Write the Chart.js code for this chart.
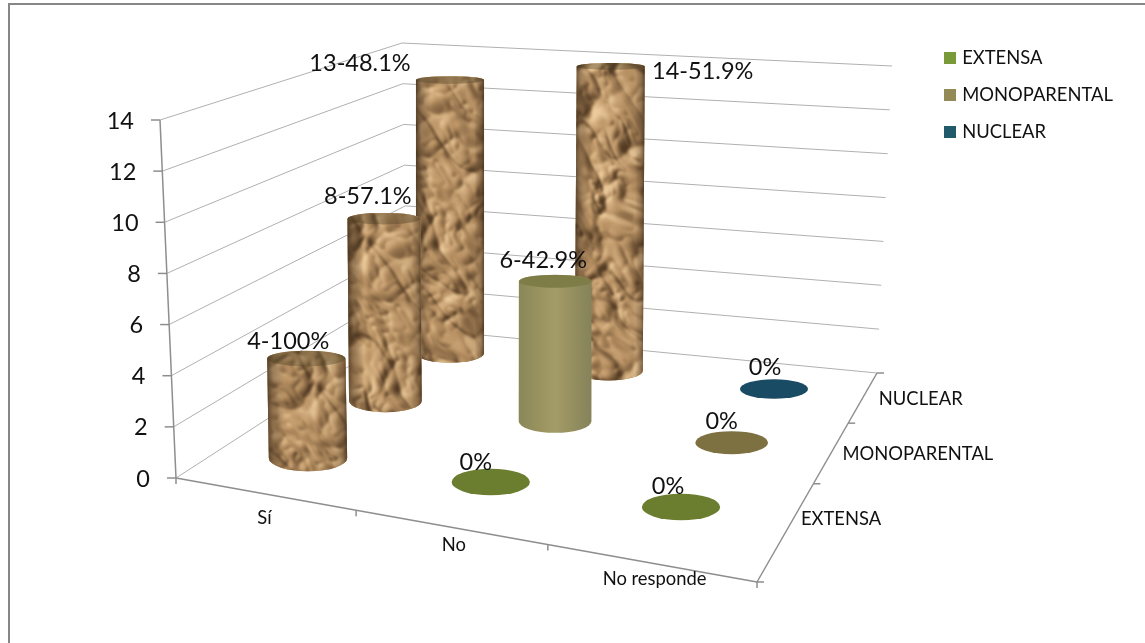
<!DOCTYPE html>
<html>
<head>
<meta charset="utf-8">
<title>Familia</title>
<script src="https://cdn.jsdelivr.net/npm/chart.js@4/dist/chart.umd.min.js"></script>
<style>
  html, body { margin: 0; padding: 0; background: #fff; overflow: hidden; }
  canvas { display: block; filter: blur(0.4px); }
</style>
</head>
<body>
<canvas id="chart" width="1145" height="643"></canvas>
<script>
// chart values
const categories = ['Sí', 'No', 'No responde'];
const seriesNames = ['EXTENSA', 'MONOPARENTAL', 'NUCLEAR'];
const extensa = [4, 0, 0];
const monoparental = [8, 6, 0];
const nuclear = [13, 14, 0];
const extensaLabels = ['4-100%', '0%', '0%'];
const monoparentalLabels = ['8-57.1%', '6-42.9%', '0%'];
const nuclearLabels = ['13-48.1%', '14-51.9%', '0%'];
const yTicks = [0, 2, 4, 6, 8, 10, 12, 14];

// the 3D box as it sits on the page: floor corners and the same corners at y max
const FLOOR = [[176, 478], [757, 582], [877, 373], [408, 328]];
const CEILING = [[160, 120], [782, 200], [892, 66], [402, 43]];
// same idea for the grid of slots the cylinders stand in (first to last slot)
const SLOT_FLOOR = [[308, 458], [681, 507], [774, 389], [450, 353]];
const SLOT_CEILING = [[302, 110], [684, 147], [778, 74], [450, 59]];
const SLOT_COLS = [0, 0.49, 1];
const SLOT_ROWS = [0, 0.545, 1];
// tick marks along the two floor edges
const FRONT_TICKS = [0, 0.31, 0.64, 1];
const SIDE_TICKS = [0, 0.47, 0.76, 1];

const FONT = 'Lato, Carlito, sans-serif';
const GRID = '#b0b0b0';
const AXIS = '#8e8e8e';
const TEXT = '#111';

// unit square -> quad
function homography(q) {
  const [[x0, y0], [x1, y1], [x2, y2], [x3, y3]] = q;
  const dx1 = x1 - x2, dx2 = x3 - x2, sx = x0 - x1 + x2 - x3;
  const dy1 = y1 - y2, dy2 = y3 - y2, sy = y0 - y1 + y2 - y3;
  const den = dx1 * dy2 - dx2 * dy1;
  const g = (sx * dy2 - dx2 * sy) / den;
  const h = (dx1 * sy - sx * dy1) / den;
  const a = x1 - x0 + g * x1, b = x3 - x0 + h * x3;
  const d = y1 - y0 + g * y1, e = y3 - y0 + h * y3;
  return (u, v) => {
    const w = g * u + h * v + 1;
    return { x: (a * u + b * v + x0) / w, y: (d * u + e * v + y0) / w };
  };
}
function bilinear(q) {
  return (u, v) => {
    const w = [(1 - u) * (1 - v), u * (1 - v), u * v, (1 - u) * v];
    return {
      x: w[0] * q[0][0] + w[1] * q[1][0] + w[2] * q[2][0] + w[3] * q[3][0],
      y: w[0] * q[0][1] + w[1] * q[1][1] + w[2] * q[2][1] + w[3] * q[3][1]
    };
  };
}
// u, v across the plane (0..1), t up the value axis (0..1)
function projector(floorAt, ceilingAt) {
  return (u, v, t) => {
    const f = floorAt(u, v), c = ceilingAt(u, v);
    return { x: f.x + (c.x - f.x) * t, y: f.y + (c.y - f.y) * t };
  };
}
const project = projector(homography(FLOOR), homography(CEILING));
const projectSlot = projector(bilinear(SLOT_FLOOR), bilinear(SLOT_CEILING));

function line(ctx, a, b, color, width) {
  ctx.strokeStyle = color;
  ctx.lineWidth = width;
  ctx.beginPath();
  ctx.moveTo(a.x, a.y);
  ctx.lineTo(b.x, b.y);
  ctx.stroke();
}
function along(a, b, f) {
  return { x: a.x + (b.x - a.x) * f, y: a.y + (b.y - a.y) * f };
}

// crumpled paper surface, a fixed hash noise lit from the top left
function hash(x, y) {
  const s = Math.sin(x * 127.1 + y * 311.7) * 43758.5453;
  return s - Math.floor(s);
}
function noise(x, y) {
  const ix = Math.floor(x), iy = Math.floor(y);
  const fx = x - ix, fy = y - iy;
  const ux = fx * fx * (3 - 2 * fx), uy = fy * fy * (3 - 2 * fy);
  const top = hash(ix, iy) * (1 - ux) + hash(ix + 1, iy) * ux;
  const bot = hash(ix, iy + 1) * (1 - ux) + hash(ix + 1, iy + 1) * ux;
  return top * (1 - uy) + bot * uy;
}
function crease(x, y) {
  // creases mostly run from top left to bottom right
  const a = x * 0.6 + y * 0.8, b = -x * 0.8 + y * 0.6;
  const wa = a + 16 * noise(a / 34 + 5, b / 34);
  const wb = b + 16 * noise(a / 34, b / 34 + 9);
  const c1 = Math.abs(2 * noise(wa / 46, wb / 20) - 1);
  const c2 = Math.abs(2 * noise(wa / 22 + 3, wb / 11 + 7) - 1);
  const c3 = Math.abs(2 * noise(wa / 10 + 11, wb / 6 + 2) - 1);
  return { c1, c2, h: c1 + 0.5 * c2 + 0.22 * c3 };
}
function buildPaper(w, h) {
  const tile = document.createElement('canvas');
  tile.width = w;
  tile.height = h;
  const tc = tile.getContext('2d');
  const img = tc.createImageData(w, h);
  const dark = [84, 60, 36], mid = [190, 150, 103], high = [238, 204, 156];
  for (let y = 0; y < h; y++) {
    for (let x = 0; x < w; x++) {
      const p = crease(x, y);
      const next = crease(x + 1.5, y + 1.5);
      let s = 0.54 + 3 * (next.h - p.h);
      if (p.c1 < 0.1) s -= 0.42 * (1 - p.c1 / 0.1);
      if (p.c2 < 0.08) s -= 0.22 * (1 - p.c2 / 0.08);
      s = Math.max(0, Math.min(1, s));
      const from = s < 0.54 ? dark : mid;
      const to = s < 0.54 ? mid : high;
      const f = s < 0.54 ? s / 0.54 : (s - 0.54) / 0.46;
      const k = (y * w + x) * 4;
      for (let n = 0; n < 3; n++) img.data[k + n] = from[n] + (to[n] - from[n]) * f;
      img.data[k + 3] = 255;
    }
  }
  tc.putImageData(img, 0, 0);
  const out = document.createElement('canvas');
  out.width = w;
  out.height = h;
  const oc = out.getContext('2d');
  oc.filter = 'blur(0.9px)';
  oc.drawImage(tile, 0, 0);
  return out;
}
const paper = buildPaper(300, 360);

function cylinderPath(ctx, b, r, ryb, c, ryc) {
  ctx.beginPath();
  ctx.ellipse(b.x, b.y, r, ryb, 0, 0, Math.PI);
  ctx.lineTo(c.x - r, c.y);
  ctx.ellipse(c.x, c.y, r, ryc, 0, Math.PI, Math.PI * 2);
  ctx.closePath();
}

function drawCylinder(ctx, surface, i, d, b, r, ryb, c, ryc) {
  const left = Math.min(b.x, c.x) - r;
  const right = Math.max(b.x, c.x) + r;
  ctx.save();
  cylinderPath(ctx, b, r, ryb, c, ryc);
  if (surface === 'paper') {
    ctx.fillStyle = '#a98455';
    ctx.fill();
    ctx.clip();
    ctx.drawImage(paper, left - i * 90 - d * 30, c.y - ryc - d * 8);
    const shade = ctx.createLinearGradient(left, 0, right, 0);
    shade.addColorStop(0, 'rgba(62,44,26,0.8)');
    shade.addColorStop(0.08, 'rgba(62,44,26,0.4)');
    shade.addColorStop(0.22, 'rgba(62,44,26,0)');
    shade.addColorStop(0.86, 'rgba(62,44,26,0.08)');
    shade.addColorStop(0.95, 'rgba(62,44,26,0.4)');
    shade.addColorStop(1, 'rgba(62,44,26,0.78)');
    ctx.fillStyle = shade;
    ctx.fillRect(left - 2, c.y - ryc - 2, right - left + 4, b.y + ryb - c.y + ryc + 4);
    ctx.beginPath();
    ctx.ellipse(c.x, c.y, r, ryc, 0, 0, Math.PI * 2);
    ctx.fillStyle = 'rgba(74,62,34,0.4)';
    ctx.fill();
  } else {
    const shade = ctx.createLinearGradient(left, 0, right, 0);
    shade.addColorStop(0, '#8a8758');
    shade.addColorStop(0.5, '#a49c66');
    shade.addColorStop(1, '#85825a');
    ctx.fillStyle = shade;
    ctx.fill();
    ctx.clip();
    ctx.beginPath();
    ctx.ellipse(c.x, c.y, r, ryc, 0, 0, Math.PI * 2);
    ctx.fillStyle = '#7f7d47';
    ctx.fill();
  }
  ctx.restore();
}

const box3dPlugin = {
  id: 'box3d',
  afterLayout(chart) {
    // legend keeps its own drawing, it only sits higher than the plot area
    chart.legend.left = 928.4;
    chart.legend.top = 30.2;
  },
  beforeDraw(chart) {
    const ctx = chart.ctx;
    ctx.save();
    ctx.fillStyle = '#878787';
    ctx.fillRect(8, 3, 1137, 2);
    ctx.fillRect(8, 3, 2, 640);
    ctx.restore();
  },
  // draws the whole box; returning false stops the flat bars being painted
  beforeDatasetsDraw(chart, args, opts) {
    const ctx = chart.ctx;
    const yScale = chart.scales.y;
    const xScale = chart.scales.x;
    const area = chart.chartArea;
    const rows = seriesNames.length;
    const tOf = v => (area.bottom - yScale.getPixelForValue(v)) / (area.bottom - area.top);
    const uOf = i => (xScale.getPixelForValue(i) - area.left) / (area.right - area.left);
    const vOf = d => (d + 0.5) / rows;

    ctx.save();
    // walls
    yTicks.forEach(tick => {
      const t = tOf(tick);
      line(ctx, project(0, 0, t), project(0, 1, t), GRID, 1);
      line(ctx, project(0, 1, t), project(1, 1, t), GRID, 1);
    });

    // value axis, slightly leaning
    line(ctx, project(0, 0, 0), project(0, 0, 1), AXIS, 1.5);
    ctx.font = opts.bigFont + 'px ' + FONT;
    ctx.fillStyle = TEXT;
    ctx.textAlign = 'right';
    ctx.textBaseline = 'middle';
    yTicks.forEach(tick => {
      const p = project(0, 0, tOf(tick));
      line(ctx, { x: p.x - 9, y: p.y }, p, AXIS, 1.5);
      ctx.fillText(String(tick), p.x - 26, p.y + 1);
    });

    // floor edges
    const fl = project(0, 0, 0), fr = project(1, 0, 0), br = project(1, 1, 0);
    line(ctx, fl, fr, AXIS, 1.5);
    line(ctx, fr, br, AXIS, 1.5);
    FRONT_TICKS.forEach(f => {
      const p = along(fl, fr, f);
      line(ctx, p, { x: p.x, y: p.y + 6 }, AXIS, 1.5);
    });
    SIDE_TICKS.forEach(f => {
      const p = along(fr, br, f);
      line(ctx, p, { x: p.x + 7, y: p.y }, AXIS, 1.5);
    });

    // axis names
    ctx.font = opts.smallFont + 'px ' + FONT;
    ctx.textAlign = 'center';
    categories.forEach((name, i) => {
      const p = project(uOf(i), 0, 0);
      const off = opts.categoryOffsets[i];
      ctx.fillText(name, p.x + off[0], p.y + off[1]);
    });
    ctx.textAlign = 'left';
    seriesNames.forEach((name, d) => {
      const p = project(1, vOf(d), 0);
      const off = opts.seriesOffsets[d];
      ctx.fillText(name, p.x + off[0], p.y + off[1]);
    });

    // cylinders back to front, they stand in the slot grid
    const labelQueue = [];
    for (let d = chart.data.datasets.length - 1; d >= 0; d--) {
      const ds = chart.data.datasets[d];
      categories.forEach((name, i) => {
        const value = ds.data[i];
        const u = SLOT_COLS[i], v = SLOT_ROWS[d], t = tOf(value);
        const b = projectSlot(u, v, 0);
        const c = projectSlot(u, v, t);
        const r = (projectSlot(u + opts.radius, v, 0).x - projectSlot(u - opts.radius, v, 0).x) / 2;
        const ryb = r * (0.34 - 0.025 * d);
        if (value === 0) {
          ctx.beginPath();
          ctx.ellipse(b.x, b.y, r, ryb, 0, 0, Math.PI * 2);
          ctx.fillStyle = ds.discColor;
          ctx.fill();
        } else {
          // the top ellipse flattens as it gets nearer eye level
          const ryc = r * (0.24 - 0.01 * value);
          drawCylinder(ctx, ds.surfaces[i], i, d, b, r, ryb, c, ryc);
        }
        const off = opts.labelOffsets[d][i];
        labelQueue.push([ds.valueLabels[i], c.x + off[0], c.y + off[1]]);
      });
    }

    // data labels go on top of everything
    ctx.font = opts.bigFont + 'px ' + FONT;
    ctx.fillStyle = TEXT;
    ctx.textAlign = 'center';
    ctx.textBaseline = 'middle';
    labelQueue.forEach(l => ctx.fillText(l[0], l[1], l[2]));
    ctx.restore();
    return false;
  }
};

new Chart(document.getElementById('chart'), {
  type: 'bar',
  data: {
    labels: categories,
    datasets: [
      { label: seriesNames[0], data: extensa, valueLabels: extensaLabels, surfaces: ['paper', 'paper', 'paper'],
        backgroundColor: '#7a9a3a', borderColor: '#7a9a3a', borderWidth: 6, discColor: '#6b7d2e' },
      { label: seriesNames[1], data: monoparental, valueLabels: monoparentalLabels, surfaces: ['paper', 'plain', 'plain'],
        backgroundColor: '#948a55', borderColor: '#948a55', borderWidth: 6, discColor: '#7d7141' },
      { label: seriesNames[2], data: nuclear, valueLabels: nuclearLabels, surfaces: ['paper', 'paper', 'paper'],
        backgroundColor: '#215a6a', borderColor: '#215a6a', borderWidth: 6, discColor: '#1a4b64' }
    ]
  },
  options: {
    responsive: false,
    animation: false,
    layout: { padding: { left: 176, top: 120, bottom: 165, right: 0 } },
    scales: {
      x: { type: 'category', display: false },
      y: { type: 'linear', display: false, min: 0, max: 14 }
    },
    plugins: {
      tooltip: { enabled: false },
      legend: {
        position: 'right',
        align: 'start',
        labels: { boxWidth: 6, boxHeight: 6, padding: 18.6, color: TEXT, font: { family: FONT, size: 18.4 } }
      },
      box3d: {
        radius: 0.105,
        bigFont: 23.5,
        smallFont: 18.4,
        categoryOffsets: [[10, 26], [23, 21], [16, 18]],
        seriesOffsets: [[18, -18], [16, -7], [17, 0]],
        labelOffsets: [
          [[-18, -17], [-15, -20], [-13, -21]],
          [[-16, -22], [-12, -21], [-10, -21]],
          [[-90, -17], [92, 5], [-9, -22]]
        ]
      }
    }
  },
  plugins: [box3dPlugin]
});
</script>
</body>
</html>
